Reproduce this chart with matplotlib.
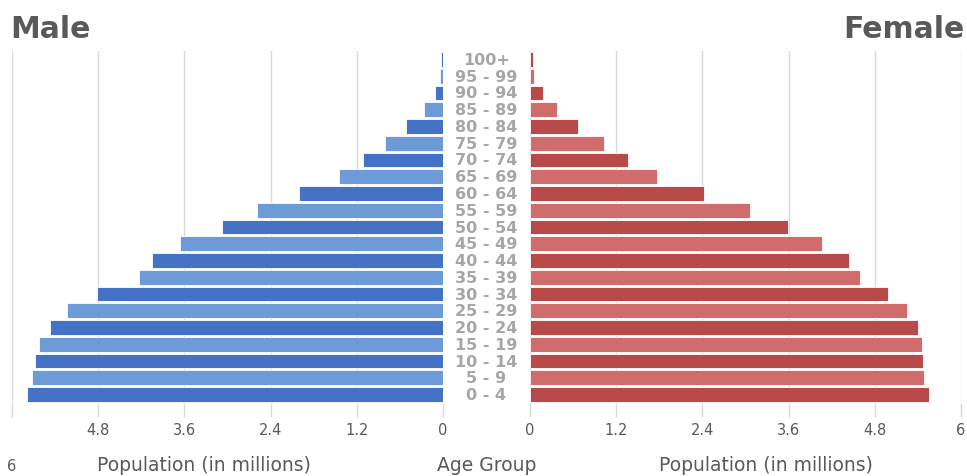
import numpy as np
import matplotlib
matplotlib.use("Agg")
import matplotlib.pyplot as plt

# population by 5-year age group, in millions (youngest first)
age_groups = ["0 - 4", "5 - 9", "10 - 14", "15 - 19", "20 - 24", "25 - 29",
              "30 - 34", "35 - 39", "40 - 44", "45 - 49", "50 - 54", "55 - 59",
              "60 - 64", "65 - 69", "70 - 74", "75 - 79", "80 - 84", "85 - 89",
              "90 - 94", "95 - 99", "100+"]
male = [5.79, 5.72, 5.68, 5.62, 5.47, 5.23, 4.82, 4.23, 4.05, 3.66, 3.08,
        2.59, 2.00, 1.45, 1.11, 0.81, 0.51, 0.26, 0.11, 0.04, 0.03]
female = [5.55, 5.48, 5.47, 5.46, 5.40, 5.25, 4.98, 4.59, 4.44, 4.06, 3.59,
          3.06, 2.42, 1.77, 1.36, 1.03, 0.67, 0.38, 0.18, 0.06, 0.04]
ticks = [0, 1.2, 2.4, 3.6, 4.8, 6]

male_colors = ["#4472C4", "#6C9BD7"]
female_colors = ["#B84B49", "#D06C6C"]
grid_color = "#D9D9D9"
text_color = "#595959"

W, H = 967, 477
fig = plt.figure(figsize=(W / 100, H / 100), dpi=100)

def px_axes(x0, x1, y0, y1):
    return fig.add_axes([x0 / W, 1 - y1 / H, (x1 - x0) / W, (y1 - y0) / H])

ax_m = px_axes(12, 443, 52, 404)
ax_f = px_axes(530, 961, 52, 404)

y = np.arange(len(age_groups))

def style(ax, vals, colors, invert):
    cols = [colors[i % 2] for i in range(len(vals))]
    ax.barh(y, vals, height=0.88, color=cols, edgecolor="white",
            linewidth=0.6, zorder=3)
    ax.set_xlim(0, 6)
    ax.set_ylim(-0.5, len(vals) - 0.5)
    if invert:
        ax.invert_xaxis()
    ax.set_xticks(ticks)
    ax.set_xticklabels(["0", "1.2", "2.4", "3.6", "4.8", "6"])
    ax.grid(axis="x", color=grid_color, linewidth=1, zorder=0)
    ax.set_yticks([])
    for s in ax.spines.values():
        s.set_visible(False)
    ax.tick_params(axis="x", length=10, width=1, color=grid_color,
                   labelsize=10.5, labelcolor=text_color, pad=4)

style(ax_m, male, male_colors, True)
style(ax_f, female, female_colors, False)

# the outer "6" on the male side sits lower, below the tick row
ax_m.get_xticklabels()[-1].set_visible(False)
fig.text(12 / W, 1 - 467 / H, "6", ha="center", va="center",
         fontsize=10.5, color=text_color)

# age group labels down the middle
for i, lab in enumerate(age_groups):
    yy = ax_m.transData.transform((0, i))[1]
    fig.text(486.5 / W, yy / H, lab, ha="center", va="center",
             fontsize=11.5, fontweight="bold", color="#A6A6A6")

# axis titles along the bottom
for xc, lab in [(204, "Population (in millions)"), (486.5, "Age Group"),
                (766, "Population (in millions)")]:
    fig.text(xc / W, 1 - 466 / H, lab, ha="center", va="center",
             fontsize=13.5, color=text_color)

fig.text(10 / W, 1 - 30 / H, "Male", ha="left", va="center",
         fontsize=21.5, fontweight="bold", color=text_color)
fig.text(964 / W, 1 - 30 / H, "Female", ha="right", va="center",
         fontsize=21.5, fontweight="bold", color=text_color)

fig.savefig("out.png", dpi=100)
